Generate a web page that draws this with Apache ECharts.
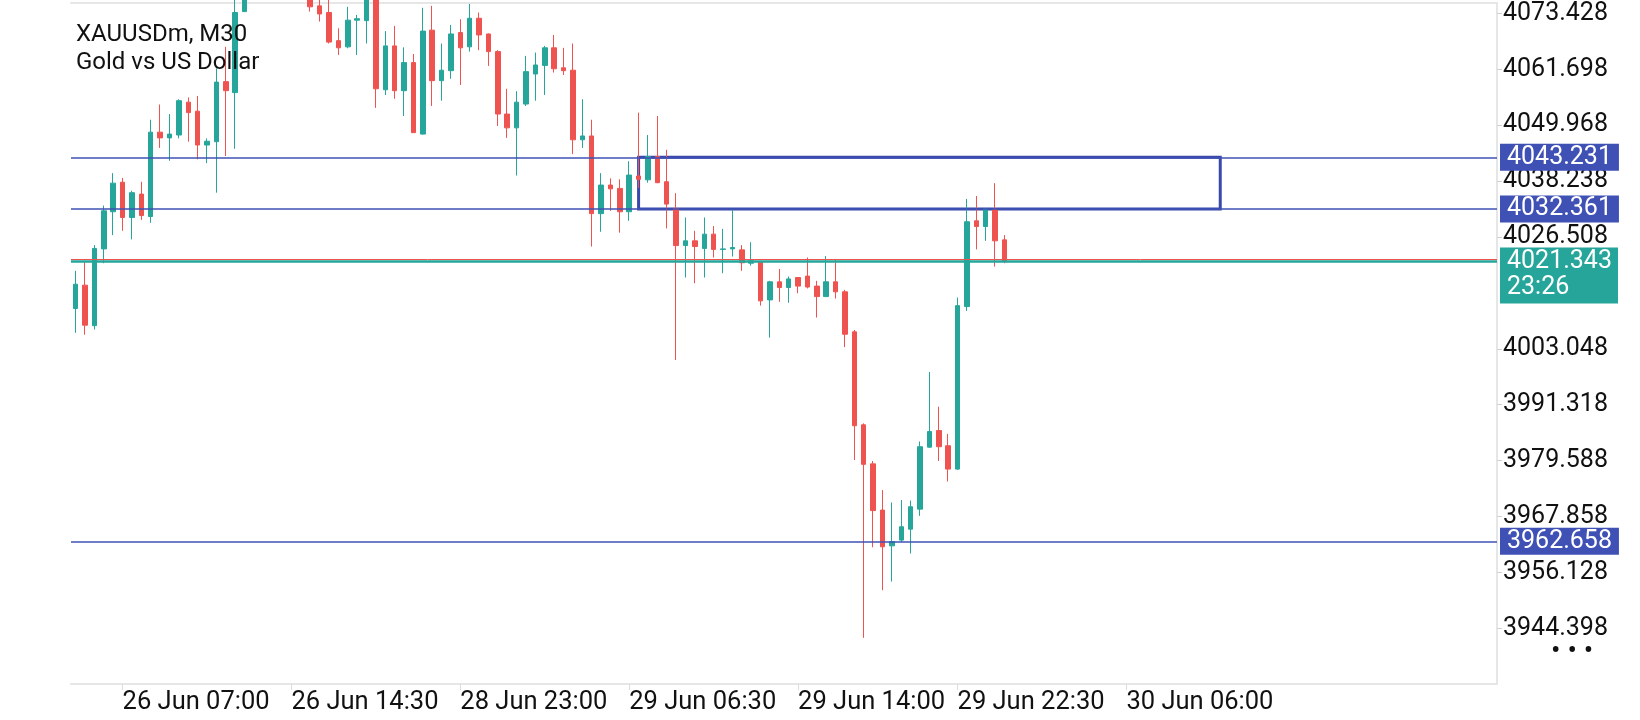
<!DOCTYPE html>
<html><head><meta charset="utf-8">
<script src="https://cdn.jsdelivr.net/npm/echarts@6/dist/echarts.min.js"></script>
<style>html,body{margin:0;padding:0;background:#fff}#c{width:1640px;height:720px}</style>
</head><body><div id="c"></div>
<script>
// ---- data (M30 candles) ----
const opens = [4011.5,4016.4,4007.9,4024.0,4031.8,4038.0,4030.6,4035.5,4030.8,4048.5,
4047.3,4047.9,4054.8,4052.9,4045.8,4046.5,4059.1,4056.8,4073.8,4079.2,
4084.0,4081.3,4086.2,4083.1,4080.4,4076.5,4075.0,4073.6,4067.7,4066.4,
4072.0,4071.9,4077.5,4057.4,4066.6,4057.2,4063.1,4048.1,4069.9,4059.3,
4061.4,4069.4,4066.4,4072.4,4069.1,4065.4,4052.3,4049.4,4054.4,4060.7,
4062.5,4066.2,4062.0,4061.5,4046.9,4047.7,4031.4,4037.4,4036.7,4031.8,
4039.3,4038.5,4043.4,4038.1,4032.5,4024.7,4025.7,4024.1,4027.1,4023.9,
4024.0,4023.8,4021.0,4021.2,4013.3,4017.1,4015.9,4018.0,4018.3,4016.2,
4014.0,4017.1,4015.0,4006.6,3987.1,3978.9,3969.2,3961.7,3962.9,3965.2,
3969.4,3982.4,3985.9,3982.7,3977.8,4011.9,4029.9,4028.7,4032.2,4025.9];
const closes = [4016.6,4008.0,4024.1,4032.0,4037.8,4030.6,4035.8,4031.0,4048.5,4047.3,
4048.1,4055.1,4052.6,4045.8,4046.6,4059.0,4057.2,4073.6,4079.0,4084.0,
4081.3,4086.2,4083.1,4080.4,4078.2,4074.8,4073.3,4067.4,4066.2,4072.0,
4072.3,4076.5,4057.6,4066.6,4057.2,4063.1,4048.4,4069.7,4059.3,4061.5,
4069.1,4066.2,4072.4,4068.9,4065.4,4052.3,4049.4,4054.8,4061.2,4062.6,
4066.2,4061.8,4061.4,4046.9,4047.7,4031.4,4037.4,4036.6,4031.8,4039.5,
4038.6,4043.4,4037.9,4033.4,4024.7,4025.7,4024.5,4027.1,4023.9,4024.0,
4024.3,4021.1,4021.5,4013.1,4017.1,4015.9,4017.7,4016.2,4016.0,4014.0,
4017.1,4015.0,4006.1,3986.9,3978.8,3969.1,3961.5,3962.6,3965.7,3969.9,
3982.5,3985.7,3982.5,3977.8,4012.1,4029.7,4028.7,4032.4,4025.7,4021.343];
const lows = [4006.4,4006.0,4007.1,4021.0,4026.9,4027.8,4026.0,4030.1,4029.5,4045.2,
4042.5,4047.2,4046.5,4042.8,4042.0,4035.8,4043.5,4045.0,4073.7,4077.0,
4078.4,4079.5,4080.2,4077.6,4076.6,4073.8,4071.7,4067.1,4064.7,4066.1,
4064.7,4067.1,4053.6,4056.3,4055.5,4051.9,4048.4,4048.0,4054.0,4055.1,
4059.7,4058.4,4065.4,4065.7,4062.4,4049.8,4047.3,4039.4,4054.0,4055.1,
4056.3,4061.0,4060.5,4043.9,4045.2,4024.5,4027.6,4032.0,4027.4,4029.9,
4036.8,4037.9,4037.8,4028.3,4000.7,4018.0,4016.8,4018.0,4022.2,4018.9,
4022.4,4019.4,4020.5,4012.1,4005.4,4012.9,4012.7,4014.7,4015.7,4009.6,
4013.9,4013.6,4003.4,3979.7,3942.4,3961.4,3952.4,3954.2,3962.5,3960.1,
3968.0,3982.3,3979.5,3975.2,3977.6,4011.0,4023.9,4025.7,4020.3,4021.0];
const highs = [4019.4,4021.3,4024.8,4033.1,4039.9,4038.9,4036.2,4038.1,4051.1,4054.3,
4052.3,4055.4,4055.8,4056.1,4047.2,4061.9,4066.4,4076.5,4081.0,4086.0,
4088.1,4089.0,4090.3,4085.2,4083.0,4078.0,4077.0,4076.5,4070.3,4074.8,
4073.1,4078.0,4079.0,4069.7,4070.8,4066.3,4064.9,4074.6,4075.0,4067.1,
4071.0,4072.2,4075.4,4073.6,4069.2,4065.7,4057.6,4057.1,4064.5,4065.2,
4066.6,4068.9,4066.2,4067.1,4055.4,4051.1,4039.9,4038.8,4038.6,4042.4,
4052.6,4047.9,4051.9,4044.8,4035.7,4030.6,4027.8,4030.6,4028.8,4028.2,
4032.2,4024.8,4025.4,4021.3,4017.3,4019.8,4018.2,4018.1,4022.2,4017.3,
4022.5,4021.9,4015.4,4007.0,3987.4,3979.5,3973.4,3970.8,3971.3,3971.2,
3983.6,3998.2,3990.9,3985.2,4013.8,4034.5,4035.1,4032.6,4037.8,4026.9];

const slotCount = 152; // bars visible across the chart width (incl. empty future space)
const categories = Array.from({length: slotCount}, (_, i) => 'bar' + i);
const xTickIndex = [5, 23, 41, 59, 77, 94, 112];
const xTickLabels = ['26 Jun 07:00','26 Jun 14:30','28 Jun 23:00','29 Jun 06:30','29 Jun 14:00','29 Jun 22:30','30 Jun 06:00'];
const yTicks = [3944.398,3956.128,3967.858,3979.588,3991.318,4003.048,4026.508,4038.238,4049.968,4061.698,4073.428];
const levels = [4043.231, 4032.361, 3962.658];
const bid = 4021.343, ask = 4021.85;
const countdown = '23:26';
const zone = {from: 60, to: 122, top: 4043.231, bottom: 4032.361};
const yMin = 3932.71, yMax = 4075.60;

const candles = opens.map((o, i) => [o, closes[i], lows[i], highs[i]]);
const UP = '#26a69a', DOWN = '#ef5350', BLUE = '#3f51b5';
const isTick = (i) => xTickIndex.indexOf(i) >= 0;

const chart = echarts.init(document.getElementById('c'), null, {renderer: 'canvas'});
chart.setOption({
  animation: false,
  backgroundColor: '#fff',
  textStyle: {fontFamily: 'Roboto'},
  title: {
    text: 'XAUUSDm, M30\nGold vs US Dollar', left: 76, top: 21, padding: 0,
    textStyle: {fontSize: 24, lineHeight: 28, fontWeight: 'normal', color: '#111', fontFamily: 'Roboto'}
  },
  grid: {left: 71, right: 143, top: 3, bottom: 36},
  xAxis: [{
    type: 'category', data: categories, boundaryGap: true,
    axisLine: {show: true, lineStyle: {color: '#e6e6e6', width: 2}},
    axisTick: {show: true, alignWithLabel: true, interval: isTick, length: 6, lineStyle: {color: '#dcdcdc'}},
    axisLabel: {
      interval: isTick, formatter: (v, i) => xTickLabels[xTickIndex.indexOf(i)] || '',
      align: 'left', margin: 6, fontSize: 25.5, color: '#111', fontFamily: 'Roboto'
    },
    splitLine: {show: false}
  }, {
    type: 'category', data: categories, position: 'top', boundaryGap: true,
    axisLine: {show: true, lineStyle: {color: '#e6e6e6', width: 2}},
    axisTick: {show: false}, axisLabel: {show: false}, splitLine: {show: false}
  }],
  yAxis: [{
    type: 'value', position: 'right', min: yMin, max: yMax,
    axisLine: {show: true, lineStyle: {color: '#e6e6e6', width: 2}},
    axisTick: {show: true, customValues: yTicks, length: 5, lineStyle: {color: '#d0d0d0'}},
    axisLabel: {customValues: yTicks, formatter: v => v.toFixed(3), margin: 6, fontSize: 25, color: '#111', fontFamily: 'Roboto'},
    splitLine: {show: false}
  }, {
    type: 'value', position: 'right', min: yMin, max: yMax, z: 10,
    axisLine: {show: false}, axisTick: {show: false}, splitLine: {show: false},
    axisLabel: {
      customValues: levels, formatter: v => v.toFixed(3), margin: 3, fontSize: 25, lineHeight: 25,
      color: '#fff', backgroundColor: BLUE, padding: [1, 7, 1, 7], fontFamily: 'Roboto'
    }
  }],
  series: [{
    type: 'candlestick', data: candles, barWidth: 5, clip: true,
    itemStyle: {color: UP, color0: DOWN, borderColor: UP, borderColor0: DOWN, borderWidth: 1},
    markLine: {
      silent: true, symbol: ['none', 'none'], label: {show: false}, animation: false,
      data: levels.map(v => ({yAxis: v, lineStyle: {color: BLUE, width: 1.5, type: 'solid'}})).concat([
        {yAxis: ask, lineStyle: {color: DOWN, width: 1, type: 'solid'}},
        {yAxis: bid, lineStyle: {color: UP, width: 2.5, type: 'solid'}}
      ])
    },
    markArea: {
      silent: true,
      itemStyle: {color: 'rgba(0,0,0,0)', borderColor: '#3949ab', borderWidth: 3},
      data: [[{xAxis: zone.from, yAxis: zone.top}, {xAxis: zone.to, yAxis: zone.bottom}]]
    }
  }]
});

const py = chart.convertToPixel({yAxisIndex: 0}, bid);
chart.setOption({
  graphic: [
    {type: 'rect', z: 100, shape: {x: 1500, y: py - 14, width: 118, height: 56}, style: {fill: UP}},
    {type: 'text', z: 101, x: 1507, y: py - 13,
      style: {text: bid.toFixed(3) + '\n' + countdown, fill: '#fff', fontSize: 25, fontFamily: 'Roboto', lineHeight: 26, verticalAlign: 'top'}},
    {type: 'text', z: 101, x: 1551, y: 652,
      style: {text: '• • •', fill: '#111', fontSize: 28, fontFamily: 'Roboto', verticalAlign: 'middle'}}
  ]
});
</script>
</body></html>
